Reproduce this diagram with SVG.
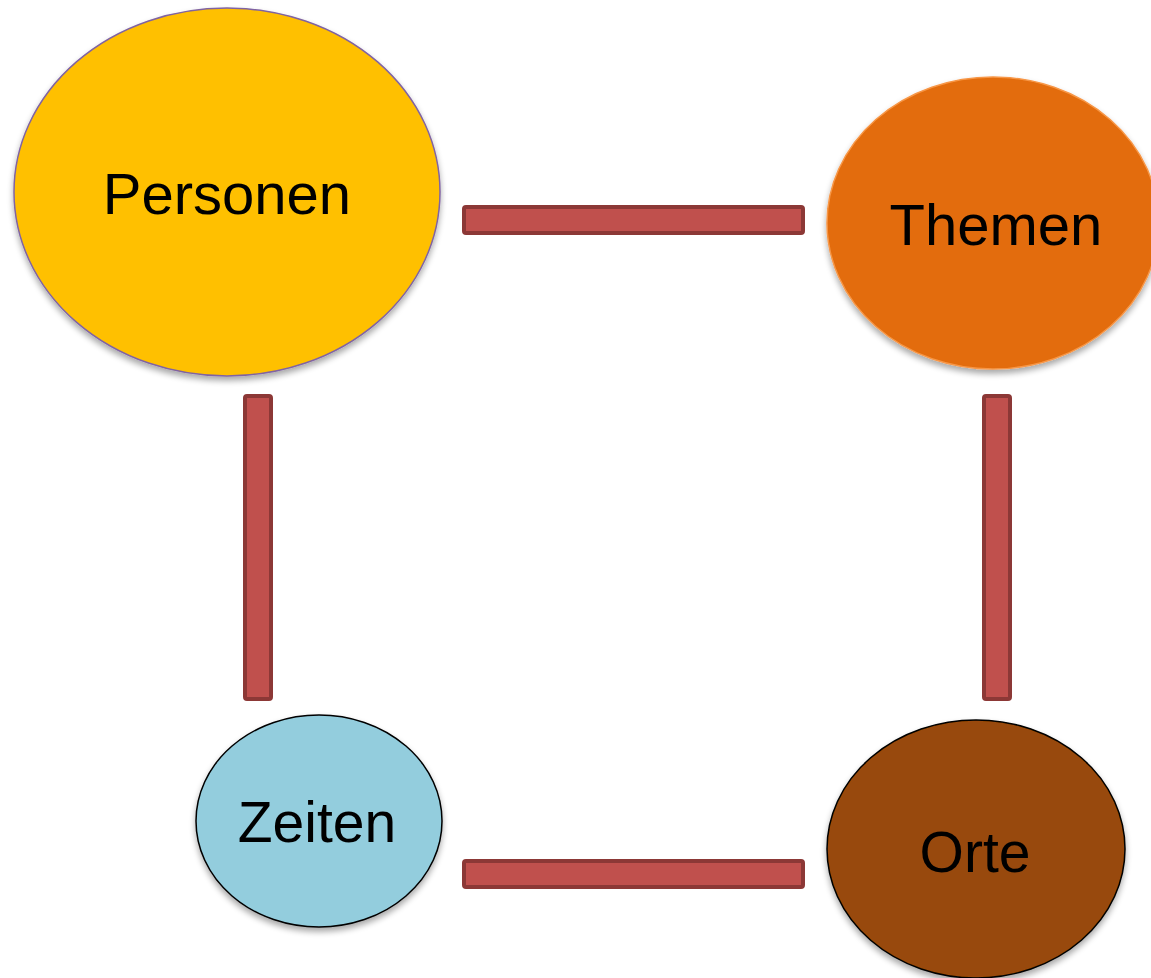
<svg xmlns="http://www.w3.org/2000/svg" width="1151" height="978" viewBox="0 0 1151 978">
<defs>
<filter id="sh" x="-10%" y="-10%" width="120%" height="125%">
<feGaussianBlur in="SourceAlpha" stdDeviation="3"/>
<feOffset dx="0" dy="4" result="b"/>
<feComponentTransfer><feFuncA type="linear" slope="0.35"/></feComponentTransfer>
<feMerge><feMergeNode/><feMergeNode in="SourceGraphic"/></feMerge>
</filter>
</defs>
<style>
.lbl{font-family:"Liberation Sans",Arial,sans-serif;font-size:58px;fill:#000;text-anchor:middle}
.bar{fill:#c0504d;stroke:#8c3836;stroke-width:4}
</style>
<rect width="1151" height="978" fill="#fff"/>
<g id="connectors">
<rect class="bar" x="464" y="207" width="339" height="26" rx="2"/>
<rect class="bar" x="245" y="396" width="26" height="303" rx="2"/>
<rect class="bar" x="984" y="396" width="26" height="303" rx="2"/>
<rect class="bar" x="464" y="861" width="339" height="26" rx="2"/>
</g>
<g id="personen">
<ellipse cx="227" cy="192" rx="213" ry="184" fill="#ffc000" stroke="#8064a2" stroke-width="1.5" filter="url(#sh)"/>
<text class="lbl" x="227" y="214">Personen</text>
</g>
<g id="themen">
<ellipse cx="993" cy="223" rx="166" ry="146" fill="#e36c0a" stroke="#f79646" stroke-width="1.5" filter="url(#sh)"/>
<text class="lbl" x="996" y="245">Themen</text>
</g>
<g id="zeiten">
<ellipse cx="319" cy="821" rx="123" ry="106" fill="#93cddd" stroke="#000" stroke-width="1.5" filter="url(#sh)"/>
<text class="lbl" x="317" y="842" style="font-size:57px">Zeiten</text>
</g>
<g id="orte">
<ellipse cx="976" cy="849" rx="149" ry="129" fill="#984807" stroke="#000" stroke-width="1.5" filter="url(#sh)"/>
<text class="lbl" x="975" y="872" style="font-size:57px">Orte</text>
</g>
</svg>
